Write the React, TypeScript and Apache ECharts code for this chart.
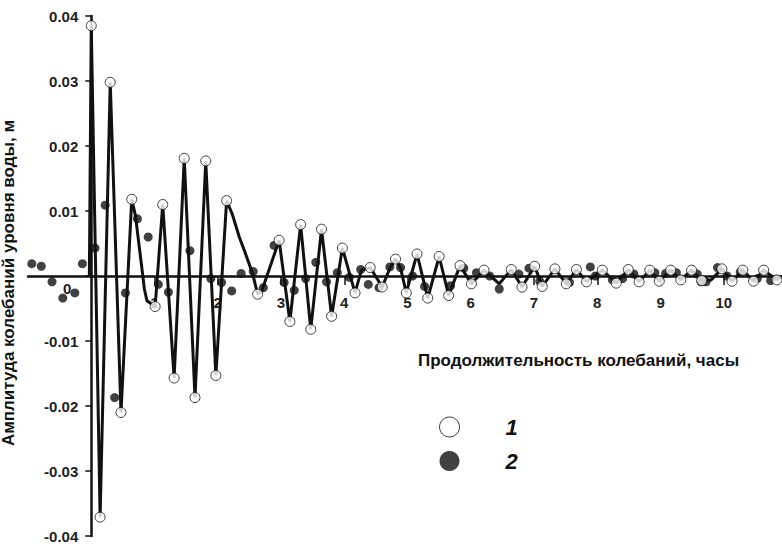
import React, { useEffect, useRef } from "react";
import * as echarts from "echarts";

// ---- data (time in hours, level in metres) ----
const xTickValues = [1, 2, 3, 4, 5, 6, 7, 8, 9, 10];

// series 1: open circles (extrema of the oscillation)
const series1Points: [number, number][] = [
  [0.0, 0.0385], [0.14, -0.0371], [0.3, 0.0298], [0.47, -0.021], [0.64, 0.0118],
  [1.01, -0.0047], [1.13, 0.011], [1.31, -0.0157], [1.47, 0.0181], [1.64, -0.0187],
  [1.81, 0.0177], [1.97, -0.0153], [2.14, 0.0116], [2.63, -0.0028], [2.97, 0.0055],
  [3.14, -0.007], [3.31, 0.0079], [3.47, -0.0082], [3.64, 0.0072], [3.8, -0.0062],
  [3.97, 0.0043], [4.17, -0.0026], [4.41, 0.0013], [4.6, -0.0017], [4.81, 0.0026],
  [4.98, -0.0026], [5.15, 0.0034], [5.32, -0.0034], [5.5, 0.003], [5.65, -0.003],
  [5.83, 0.0016], [6.01, -0.0012], [6.21, 0.0009], [6.64, 0.001], [6.81, -0.0017],
  [7.01, 0.0015], [7.13, -0.0016], [7.33, 0.0011], [7.51, -0.0012], [7.67, 0.001],
  [7.83, -0.0009], [8.08, 0.0009], [8.3, -0.0011], [8.49, 0.001], [8.66, -0.0009],
  [8.83, 0.0009], [8.98, -0.0008], [9.16, 0.0009], [9.32, -0.0006], [9.49, 0.0009],
  [9.65, -0.0007], [9.97, 0.0011], [10.13, -0.0008], [10.3, 0.0009], [10.47, -0.0008],
  [10.63, 0.0009], [10.84, -0.0006],
];

// series 2: filled dots
const series2Points: [number, number][] = [
  [-0.94, 0.0019], [-0.79, 0.0015], [-0.62, -0.0009], [-0.45, -0.0034], [-0.26, -0.0026],
  [-0.14, 0.0019], [0.06, 0.0043], [0.22, 0.0109], [0.37, -0.0187], [0.54, -0.0026],
  [0.73, 0.0088], [0.9, 0.006], [1.06, -0.0013], [1.22, -0.0025], [1.56, 0.0039],
  [1.89, -0.0004], [2.06, -0.001], [2.22, -0.0023], [2.37, 0.0004], [2.56, 0.0007],
  [2.72, -0.0018], [2.89, 0.0047], [3.05, -0.001], [3.21, -0.0022], [3.39, -0.0004],
  [3.55, 0.0021], [3.72, -0.0009], [3.89, 0.0005], [4.08, -0.0002], [4.26, 0.001],
  [4.38, -0.0013], [4.55, -0.0018], [4.72, 0.0014], [4.89, 0.0013], [5.08, 0.0],
  [5.27, -0.0016], [5.68, -0.0015], [5.89, 0.0012], [6.09, 0.0005], [6.3, 0.0],
  [6.45, -0.002], [6.76, 0.0003], [6.92, 0.0012], [7.09, -0.0008], [7.56, -0.001],
  [7.89, 0.0014], [7.97, 0.0], [8.24, -0.0006], [8.4, -0.0004], [8.58, 0.0003],
  [8.91, 0.0005], [9.08, 0.0004], [9.25, 0.0005], [9.58, 0.0003], [9.64, -0.0009],
  [9.72, -0.0009], [9.9, 0.0013], [10.05, 0.0], [10.26, 0.0006], [10.53, -0.0004],
  [10.74, -0.0007],
];

// connecting curve
const curvePoints: [number, number][] = [
  [-0.03, 0], [0.0, 0.0385], [0.14, -0.0371], [0.3, 0.0298], [0.47, -0.021],
  [0.64, 0.0118], [0.7, 0.0092], [0.84, -0.002], [0.88, -0.0038], [1.01, -0.0047],
  [1.13, 0.011], [1.31, -0.0157], [1.47, 0.0181], [1.64, -0.0187], [1.81, 0.0177],
  [1.97, -0.0153], [2.14, 0.0116], [2.23, 0.0095], [2.34, 0.006], [2.44, 0.0034],
  [2.55, 0.0004], [2.63, -0.0028], [2.7, -0.0022], [2.97, 0.0055], [3.14, -0.007],
  [3.31, 0.0079], [3.47, -0.0082], [3.64, 0.0072], [3.8, -0.0062], [3.97, 0.0043],
  [4.17, -0.0026], [4.27, 0.0009], [4.41, 0.0013], [4.6, -0.0017], [4.72, 0.0012],
  [4.81, 0.0026], [4.89, 0.0012], [4.98, -0.0026], [5.15, 0.0034], [5.32, -0.0034],
  [5.5, 0.003], [5.65, -0.003], [5.83, 0.0016], [6.01, -0.0012], [6.21, 0.0009],
  [6.45, -0.0012], [6.64, 0.001], [6.81, -0.0017], [7.01, 0.0015], [7.13, -0.0016],
  [7.33, 0.0011], [7.51, -0.0012], [7.67, 0.001], [7.83, -0.0009], [8.08, 0.0009],
  [8.3, -0.0011], [8.49, 0.001], [8.66, -0.0009], [8.83, 0.0009], [8.98, -0.0008],
  [9.16, 0.0009], [9.32, -0.0006], [9.49, 0.0009], [9.65, -0.0007], [9.8, -0.0006],
  [9.97, 0.0011], [10.13, -0.0008], [10.3, 0.0009], [10.47, -0.0008], [10.63, 0.0009],
  [10.84, -0.0006], [10.92, 0],
];

const yAxisTitle = "Амплитуда колебаний уровня воды, м";
const xAxisTitle = "Продолжительность колебаний, часы";
const originLabel = "0";
const legendNames = ["1", "2"];

const FONT = '"Liberation Sans", Arial, Helvetica, sans-serif';
const INK = "#111";

// layout
const W = 782;
const H = 544;
const GRID = { left: 28, right: 0, top: 16, bottom: 8 };
const X_MIN = -1;
const X_MAX = 10.92;
const Y_MIN = -0.04;
const Y_MAX = 0.04;

export default function App() {
  const ref = useRef<HTMLDivElement>(null);
  useEffect(() => {
    document.body.style.margin = "0";
    const chart = echarts.init(ref.current as HTMLDivElement, null, { renderer: "svg" });
    // shift the axes so that they cross at the origin (0, 0)
    const plotW = W - GRID.left - GRID.right;
    const plotH = H - GRID.top - GRID.bottom;
    const yAxisShift = ((0 - X_MIN) / (X_MAX - X_MIN)) * plotW;
    const xAxisShift = ((0 - Y_MIN) / (Y_MAX - Y_MIN)) * plotH;
    const originX = GRID.left + yAxisShift;
    const originY = GRID.top + plotH - xAxisShift;
    chart.setOption({
      animation: false,
      backgroundColor: "#fff",
      textStyle: { fontFamily: FONT },
      grid: { ...GRID, containLabel: false, outerBoundsMode: "none" },
      legend: {
        orient: "vertical",
        left: 434,
        top: 411,
        itemWidth: 20,
        itemHeight: 20,
        itemGap: 12,
        selectedMode: false,
        data: [
          { name: legendNames[0], icon: "circle", itemStyle: { color: "#fff", borderColor: INK, borderWidth: 1 } },
          { name: legendNames[1], icon: "circle", itemStyle: { color: INK } },
        ],
        textStyle: {
          fontFamily: FONT,
          fontSize: 22,
          fontWeight: "bold",
          fontStyle: "italic",
          color: INK,
          padding: [0, 0, 0, 41],
        },
      },
      graphic: [
        {
          type: "text",
          left: 418,
          top: 352,
          z: 100,
          style: {
            text: xAxisTitle,
            font: `bold 17px ${FONT}`,
            fill: INK,
          },
        },
        {
          type: "text",
          x: originX - 24,
          y: originY + 12,
          z: 100,
          style: {
            text: originLabel,
            font: `bold 15px ${FONT}`,
            fill: "#222",
            align: "center",
            verticalAlign: "middle",
          },
        },
      ],
      xAxis: {
        type: "value",
        min: X_MIN,
        max: X_MAX,
        interval: 1,
        position: "bottom",
        offset: -xAxisShift,
        splitLine: { show: false },
        axisLine: { onZero: false, lineStyle: { color: INK, width: 2.5 } },
        axisTick: { show: true, customValues: xTickValues, length: 9, lineStyle: { color: INK, width: 1.5 } },
        axisLabel: {
          customValues: xTickValues,
          margin: 19,
          fontFamily: FONT,
          fontSize: 15,
          fontWeight: "bold",
          color: "#222",
        },
      },
      yAxis: {
        type: "value",
        min: Y_MIN,
        max: Y_MAX,
        interval: 0.01,
        position: "left",
        offset: -yAxisShift,
        splitLine: { show: false },
        axisLine: { onZero: false, lineStyle: { color: INK, width: 2.5 } },
        axisTick: { show: true, inside: false, length: 6, lineStyle: { color: INK, width: 1.5 } },
        axisLabel: {
          margin: 13,
          fontFamily: FONT,
          fontSize: 15,
          fontWeight: "bold",
          color: "#222",
          formatter: (v: number) => (Math.abs(v) < 1e-9 ? "" : v.toFixed(2)),
        },
        name: yAxisTitle,
        nameLocation: "middle",
        nameRotate: 90,
        nameGap: 74,
        nameTextStyle: { fontFamily: FONT, fontSize: 17, fontWeight: "bold", color: INK, padding: [0, 14, 0, 0] },
      },
      series: [
        {
          name: "curve",
          type: "line",
          data: curvePoints,
          symbol: "none",
          silent: true,
          z: 2,
          lineStyle: { color: INK, width: 3 },
        },
        {
          name: legendNames[1],
          type: "scatter",
          data: series2Points,
          symbol: "circle",
          symbolSize: 9,
          z: 3,
          itemStyle: { color: INK },
        },
        {
          name: legendNames[0],
          type: "scatter",
          data: series1Points,
          symbol: "circle",
          symbolSize: 10,
          z: 4,
          itemStyle: { color: "#fff", borderColor: INK, borderWidth: 1 },
        },
      ],
    });
    return () => chart.dispose();
  }, []);
  return (
    <div
      ref={ref}
      style={{ width: W, height: H, position: "fixed", left: 0, top: 0, background: "#fff" }}
    />
  );
}
